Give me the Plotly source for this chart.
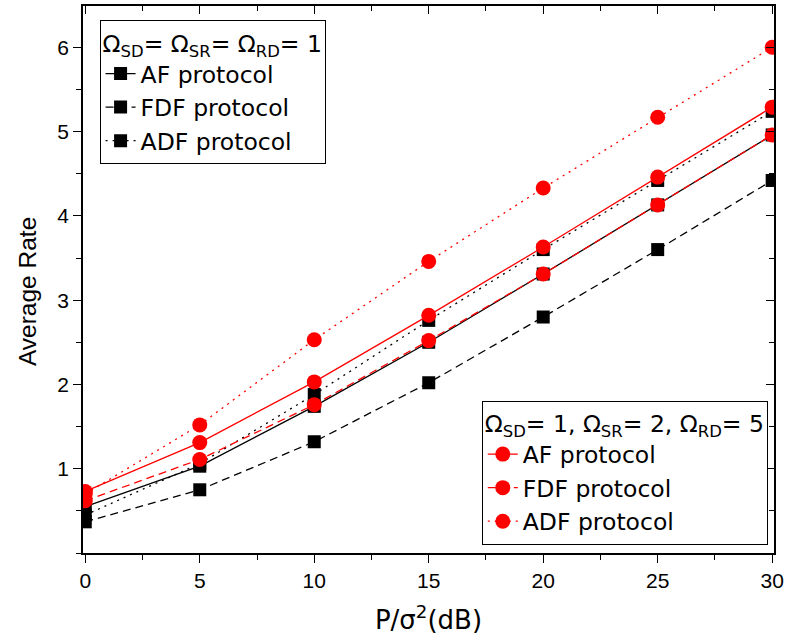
import plotly.graph_objects as go

# SNR points (dB)
snr_db = [0, 5, 10, 15, 20, 25, 30]

# Omega_SD = Omega_SR = Omega_RD = 1
af_equal = [0.55, 1.03, 1.74, 2.50, 3.31, 4.13, 4.96]
fdf_equal = [0.37, 0.75, 1.32, 2.02, 2.80, 3.60, 4.42]
adf_equal = [0.45, 1.06, 1.88, 2.76, 3.60, 4.42, 5.24]

# Omega_SD = 1, Omega_SR = 2, Omega_RD = 5
af_unequal = [0.73, 1.31, 2.03, 2.82, 3.63, 4.46, 5.29]
fdf_unequal = [0.62, 1.11, 1.76, 2.52, 3.31, 4.13, 4.96]
adf_unequal = [0.70, 1.52, 2.53, 3.46, 4.33, 5.17, 6.00]

x_ticks = [0, 5, 10, 15, 20, 25, 30]
y_ticks = [1, 2, 3, 4, 5, 6]

TICK_FONT = "Liberation Sans, Arial, sans-serif"
TEXT_FONT = "DejaVu Sans, sans-serif"
DASH = "8px,5px"
DOT = "2px,5px"

fig = go.Figure()

black_series = [("AF protocol", af_equal, "solid"),
                ("FDF protocol", fdf_equal, DASH),
                ("ADF protocol", adf_equal, DOT)]
red_series = [("AF protocol", af_unequal, "solid"),
              ("FDF protocol", fdf_unequal, DASH),
              ("ADF protocol", adf_unequal, DOT)]

for name, ys, dash in black_series:
    fig.add_trace(go.Scatter(
        x=snr_db, y=ys, name=name, mode="lines+markers",
        line=dict(color="black", width=1.3, dash=dash),
        marker=dict(symbol="square", size=13, color="black"),
        legend="legend"))

for name, ys, dash in red_series:
    fig.add_trace(go.Scatter(
        x=snr_db, y=ys, name=name, mode="lines+markers",
        line=dict(color="red", width=1.3, dash=dash),
        marker=dict(symbol="circle", size=15, color="red"),
        legend="legend2"))

# invisible trace carrying the mirrored top/right axes
fig.add_trace(go.Scatter(x=[snr_db[0]], y=[af_equal[0]], xaxis="x2", yaxis="y2",
                         mode="markers", marker=dict(opacity=0),
                         showlegend=False, hoverinfo="skip"))

x_range = [-0.1, 30.08]
y_range = [0, 6.49]

axis_common = dict(showline=True, linecolor="black", linewidth=1.6,
                   showgrid=False, zeroline=False, tickcolor="black",
                   tickwidth=1.4,
                   tickfont=dict(family=TICK_FONT, size=21, color="black"))

fig.update_layout(
    width=790, height=641,
    margin=dict(l=83, r=11, t=6, b=88),
    paper_bgcolor="white", plot_bgcolor="white",
    font=dict(family=TEXT_FONT, color="black"),
    xaxis=dict(range=x_range, tickvals=x_ticks, ticks="outside", ticklen=8,
               minor=dict(ticks="outside", ticklen=5, dtick=2.5, tick0=0,
                          tickcolor="black", tickwidth=1.4),
               title=dict(text="P/σ<sup>2</sup>(dB)",
                          font=dict(family=TEXT_FONT, size=26), standoff=20),
               **axis_common),
    yaxis=dict(range=y_range, tickvals=y_ticks, ticks="outside", ticklen=8,
               minor=dict(ticks="outside", ticklen=5, dtick=0.5, tick0=0,
                          tickcolor="black", tickwidth=1.4),
               **axis_common),
    xaxis2=dict(range=x_range, overlaying="x", side="top", anchor="y",
                tickvals=x_ticks, ticks="inside", ticklen=8,
                showticklabels=False,
                minor=dict(ticks="inside", ticklen=5, dtick=2.5, tick0=0,
                           tickcolor="black", tickwidth=1.4),
                **axis_common),
    yaxis2=dict(range=y_range, overlaying="y", side="right", anchor="x",
                tickvals=y_ticks, ticks="inside", ticklen=8,
                showticklabels=False,
                minor=dict(ticks="inside", ticklen=5, dtick=0.5, tick0=0,
                           tickcolor="black", tickwidth=1.4),
                **axis_common),
    legend=dict(
        x=0.024, y=0.974, xanchor="left", yanchor="top",
        bgcolor="white", bordercolor="black", borderwidth=1,
        font=dict(family=TEXT_FONT, size=23.5, color="black"),
        title=dict(text="Ω<sub>SD</sub>= Ω<sub>SR</sub>= Ω<sub>RD</sub>= 1",
                   font=dict(family=TEXT_FONT, size=23.5)),
        tracegroupgap=0, itemsizing="trace"),
    legend2=dict(
        x=0.991, y=0.015, xanchor="right", yanchor="bottom",
        bgcolor="white", bordercolor="black", borderwidth=1,
        font=dict(family=TEXT_FONT, size=23.5, color="black"),
        title=dict(text="Ω<sub>SD</sub>= 1, Ω<sub>SR</sub>= 2, Ω<sub>RD</sub>= 5",
                   font=dict(family=TEXT_FONT, size=23.5)),
        tracegroupgap=0, itemsizing="trace"),
)

# y-axis title, set slightly below the axis midpoint
fig.add_annotation(text="Average Rate", textangle=-90,
                   xref="paper", yref="paper", x=0, y=0.477,
                   xanchor="center", yanchor="middle", xshift=-56,
                   showarrow=False,
                   font=dict(family=TICK_FONT, size=24.5, color="black"))

fig.write_html("out.html")
